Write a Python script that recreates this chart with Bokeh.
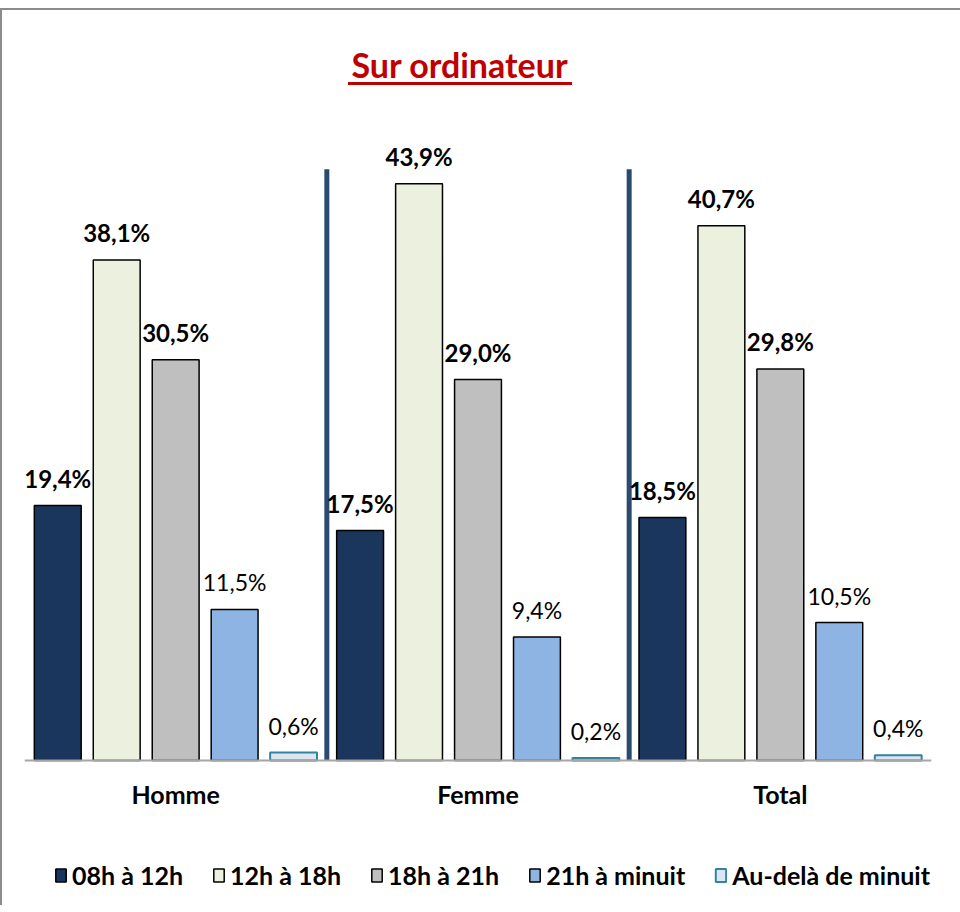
from bokeh.plotting import figure
from bokeh.models import ColumnDataSource, Label, FixedTicker, Legend
from bokeh.core.properties import value
from bokeh.embed import file_html
from bokeh.resources import INLINE

# ---- data ----
categories = ["Homme", "Femme", "Total"]
series = ["08h à 12h", "12h à 18h", "18h à 21h", "21h à minuit", "Au-delà de minuit"]
v_08_12 = [19.4, 17.5, 18.5]
v_12_18 = [38.1, 43.9, 40.7]
v_18_21 = [30.5, 29.0, 29.8]
v_21_00 = [11.5, 9.4, 10.5]
v_after = [0.6, 0.2, 0.4]
values = [v_08_12, v_12_18, v_18_21, v_21_00, v_after]
title_text = "Sur ordinateur"

# ---- styles ----
FONT = "Lato"
fills = ["#1b365d", "#ebf1de", "#bfbfbf", "#8db4e2", "#dce6f2"]
lines = ["#000000", "#000000", "#000000", "#000000", "#31849b"]
line_w = [1.5, 1.5, 1.5, 1.5, 2]
bold_labels = [True, True, True, False, False]
step = 0.195
bar_w = 0.155

p = figure(frame_width=907, frame_height=895, output_backend="svg", toolbar_location=None,
           x_range=(-0.5, 2.5), y_range=(-11.035, 57.08), y_axis_location=None,
           min_border_left=22, min_border_right=29, min_border_top=0,
           min_border_bottom=0)
p.outline_line_color = None
p.xgrid.visible = False
p.ygrid.visible = False
p.styles = {"margin-top": "8px", "border-top": "2px solid #8c8c8c",
            "border-left": "2px solid #8c8c8c"}

group_x = list(range(len(categories)))

# separators between groups
p.segment(x0=[g + 0.5 for g in group_x[:-1]], y0=[0, 0],
          x1=[g + 0.5 for g in group_x[:-1]], y1=[45, 45],
          line_color="#2b4a6f", line_width=5)

legend_items = []
for i, (name, vals) in enumerate(zip(series, values)):
    xs = [g + (i - 2) * step for g in group_x]
    labels = [("%.1f" % v).replace(".", ",") + "%" for v in vals]
    src = ColumnDataSource(dict(x=xs, top=vals, label=labels))
    r = p.vbar(x="x", top="top", bottom=0, width=bar_w, source=src,
               fill_color=fills[i], line_color=lines[i], line_width=line_w[i])
    legend_items.append((name, [r]))
    p.text(x="x", y="top", text="label", source=src,
           text_align="center", text_baseline="middle",
           y_offset=-27 if bold_labels[i] else -27,
           text_font=value(FONT),
           text_font_size="24px" if bold_labels[i] else "23px",
           text_font_style="bold" if bold_labels[i] else "normal",
           text_color="#000000")

# title with underline
p.add_layout(Label(x=0.94, y=53.0, text=title_text, text_align="center",
                   text_baseline="middle", text_font=FONT, text_font_size="34px",
                   text_font_style="bold", text_color="#c00000"))
p.segment(x0=[0.57], y0=[51.52], x1=[1.311], y1=[51.52],
          line_color="#c00000", line_width=3)

# x axis, pinned at zero inside the frame
ax = p.xaxis[0]
ax.fixed_location = 0
ax.ticker = FixedTicker(ticks=group_x)
ax.major_label_overrides = {g: c for g, c in zip(group_x, categories)}
ax.axis_line_color = "#a6a6a6"
ax.axis_line_width = 2
ax.major_tick_line_color = None
ax.minor_tick_line_color = None
ax.major_label_standoff = 12
ax.major_label_text_font = FONT
ax.major_label_text_font_size = "25px"
ax.major_label_text_font_style = "bold"
ax.major_label_text_color = "#000000"

legend = Legend(items=legend_items, orientation="horizontal", location=(30, 15),
                glyph_width=13, glyph_height=16, label_standoff=5, spacing=29,
                label_text_font=FONT, label_text_font_size="25px",
                label_text_font_style="bold", label_text_color="#000000",
                border_line_color=None, background_fill_alpha=0,
                padding=0, margin=0)
p.add_layout(legend, "center")

open("out.html", "w").write(file_html(p, INLINE))
